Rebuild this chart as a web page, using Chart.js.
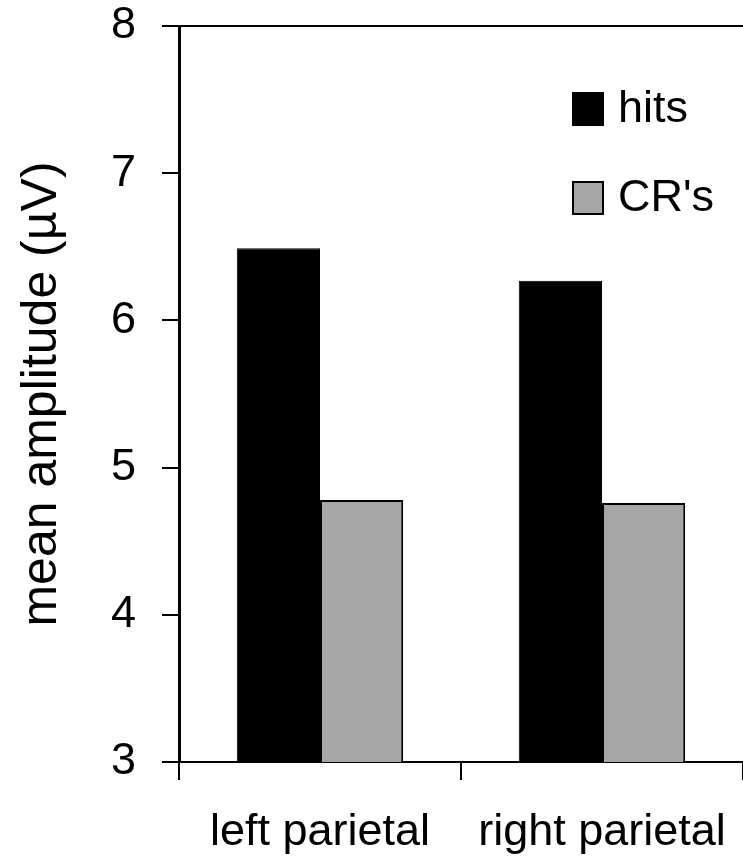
<!DOCTYPE html>
<html lang="en">
<head>
    <meta charset="UTF-8">
    <title>mean amplitude</title>
    <style>
        body {
            margin: 0;
            padding: 0;
            background-color: #fff;
        }
        canvas {
            display: block;
        }
    </style>
</head>
<body>
    <canvas id="ampChart" width="743" height="860"></canvas>

    <script src="https://cdn.jsdelivr.net/npm/chart.js"></script>
    <script>
        // Data
        const regions = ['left parietal', 'right parietal'];
        const seriesNames = ['hits', "CR's"];
        const hits = [6.49, 6.27];
        const crs = [4.78, 4.76];
        const yTicks = [3, 4, 5, 6, 7, 8];

        const FONT = "'Liberation Sans', Arial, sans-serif";

        // legend drawn inside the plot, top right
        const innerLegend = {
            id: 'innerLegend',
            afterDraw(chart) {
                const ctx = chart.ctx;
                const area = chart.chartArea;
                ctx.save();
                ctx.font = '45px ' + FONT;
                ctx.textBaseline = 'middle';
                chart.data.datasets.forEach((ds, i) => {
                    const x = area.left + 394;
                    const y = area.top + 67 + i * 89;
                    ctx.fillStyle = ds.backgroundColor;
                    ctx.fillRect(x, y, 30, 32);
                    ctx.lineWidth = 2;
                    ctx.strokeStyle = '#000';
                    ctx.strokeRect(x, y, 30, 32);
                    ctx.fillStyle = '#000';
                    ctx.fillText(ds.label, x + 45, y + 17);
                });
                ctx.restore();
            }
        };

        const ctx = document.getElementById('ampChart').getContext('2d');
        const chart = new Chart(ctx, {
            type: 'bar',
            data: {
                labels: regions,
                datasets: [{
                    label: seriesNames[0],
                    data: hits,
                    backgroundColor: '#000000',
                    borderColor: '#000000',
                    borderWidth: 1
                }, {
                    label: seriesNames[1],
                    data: crs,
                    backgroundColor: '#a6a6a6',
                    borderColor: '#000000',
                    borderWidth: 2
                }]
            },
            options: {
                responsive: false,
                animation: false,
                barPercentage: 1,
                categoryPercentage: 0.59,
                layout: {
                    padding: { left: 0, right: -4, top: 26, bottom: 0 }
                },
                plugins: {
                    legend: { display: false },
                    tooltip: { enabled: false }
                },
                scales: {
                    x: {
                        afterFit(axis) {
                            axis.height = 98;
                            axis.paddingLeft = 0;
                            axis.paddingRight = 0;
                        },
                        grid: {
                            offset: true,
                            drawOnChartArea: false,
                            tickLength: 18,
                            tickColor: '#000',
                            lineWidth: 2
                        },
                        border: { display: true, color: '#000', width: 2 },
                        ticks: {
                            color: '#000',
                            font: { family: FONT, size: 45 },
                            padding: 26,
                            maxRotation: 0
                        }
                    },
                    y: {
                        min: 3,
                        max: 8,
                        afterBuildTicks(axis) {
                            axis.ticks = yTicks.map(v => ({ value: v }));
                        },
                        afterFit(axis) {
                            axis.width = 179;
                            axis.paddingTop = 0;
                            axis.paddingBottom = 0;
                        },
                        grid: {
                            color: c => (c.tick && c.tick.value === 8) ? '#000' : 'rgba(0,0,0,0)',
                            tickColor: '#000',
                            tickLength: 17,
                            lineWidth: 2
                        },
                        border: { display: true, color: '#000', width: 3 },
                        ticks: {
                            color: '#000',
                            font: { family: FONT, size: 45 },
                            padding: 26
                        },
                        title: {
                            display: true,
                            text: 'mean amplitude (µV)',
                            color: '#000',
                            font: { family: FONT, size: 50 },
                            padding: { top: 12, bottom: 0 }
                        }
                    }
                }
            },
            plugins: [innerLegend]
        });
    </script>
</body>
</html>
